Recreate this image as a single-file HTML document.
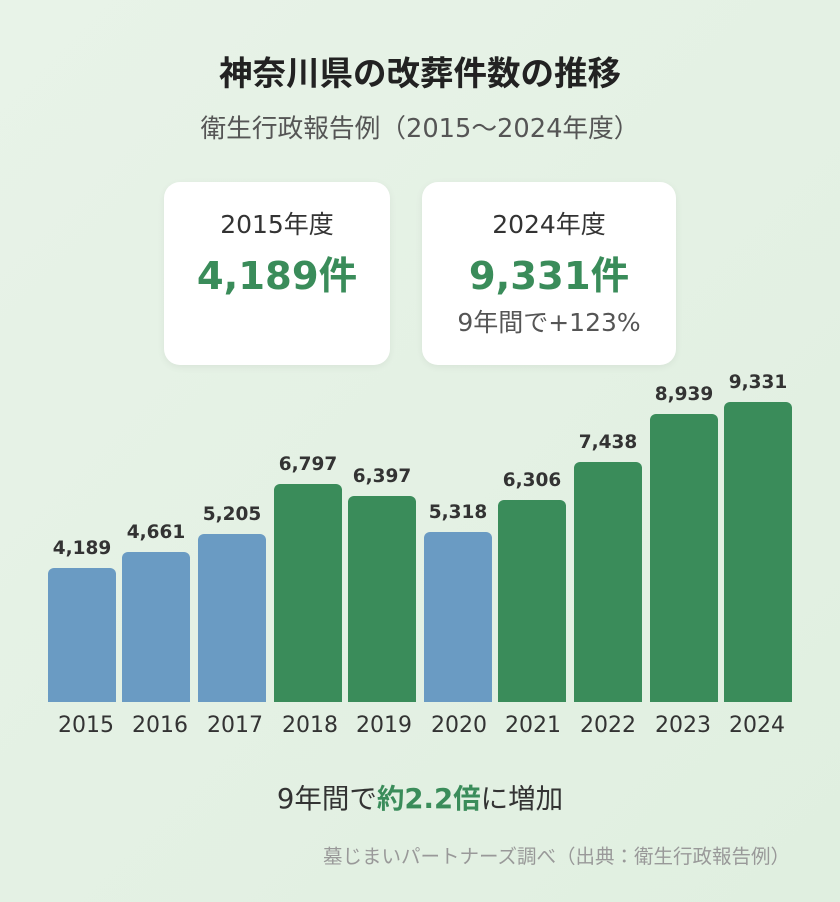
<!DOCTYPE html>
<html><head><meta charset="utf-8"><style>
body{margin:0;width:840px;height:902px;background:linear-gradient(135deg,#e8f3e8,#e0efe0);font-family:"DejaVu Sans","Noto Sans CJK JP",sans-serif;position:relative;overflow:hidden;color:#333}
.a{position:absolute;white-space:nowrap}
.card{position:absolute;top:182px;height:183px;background:#fff;border-radius:16px;box-shadow:0 2px 8px rgba(0,0,0,0.06);text-align:center}
.bar{position:absolute;border-radius:6px 6px 0 0}
.v{position:absolute;width:80px;text-align:center;font-weight:bold;font-size:18.5px;color:#333}
.y{position:absolute;top:713px;width:80px;text-align:center;font-size:22px;color:#333}
</style></head><body>
<div class="a" style="left:0;width:840px;text-align:center;top:46px;font-size:33.5px;font-weight:bold;color:#222">神奈川県の改葬件数の推移</div>
<div class="a" style="left:0;width:840px;text-align:center;top:108px;font-size:25.7px;color:#555">衛生行政報告例（2015～2024年度）</div>
<div class="card" style="left:164px;width:226px">
<div style="margin-top:23px;font-size:25px;color:#333">2015年度</div>
<div style="margin-top:4px;font-size:38.5px;font-weight:bold;color:#3a8c5a">4,189件</div></div>
<div class="card" style="left:422px;width:254px">
<div style="margin-top:23px;font-size:25px;color:#333">2024年度</div>
<div style="margin-top:4px;font-size:38.5px;font-weight:bold;color:#3a8c5a">9,331件</div>
<div style="margin-top:2px;font-size:25px;color:#555">9年間で+123%</div></div>
<div class="bar" style="left:48px;width:68px;top:568px;height:134px;background:#6a9bc3"></div>
<div class="bar" style="left:122px;width:68px;top:552px;height:150px;background:#6a9bc3"></div>
<div class="bar" style="left:198px;width:68px;top:534px;height:168px;background:#6a9bc3"></div>
<div class="bar" style="left:274px;width:68px;top:484px;height:218px;background:#3a8c5a"></div>
<div class="bar" style="left:348px;width:68px;top:496px;height:206px;background:#3a8c5a"></div>
<div class="bar" style="left:424px;width:68px;top:532px;height:170px;background:#6a9bc3"></div>
<div class="bar" style="left:498px;width:68px;top:500px;height:202px;background:#3a8c5a"></div>
<div class="bar" style="left:574px;width:68px;top:462px;height:240px;background:#3a8c5a"></div>
<div class="bar" style="left:650px;width:68px;top:414px;height:288px;background:#3a8c5a"></div>
<div class="bar" style="left:724px;width:68px;top:402px;height:300px;background:#3a8c5a"></div>
<div class="v" style="left:42px;top:538px">4,189</div>
<div class="v" style="left:116px;top:522px">4,661</div>
<div class="v" style="left:192px;top:504px">5,205</div>
<div class="v" style="left:268px;top:454px">6,797</div>
<div class="v" style="left:342px;top:466px">6,397</div>
<div class="v" style="left:418px;top:502px">5,318</div>
<div class="v" style="left:492px;top:470px">6,306</div>
<div class="v" style="left:568px;top:432px">7,438</div>
<div class="v" style="left:644px;top:384px">8,939</div>
<div class="v" style="left:718px;top:372px">9,331</div>
<div class="y" style="left:46px">2015</div><div class="y" style="left:120px">2016</div><div class="y" style="left:195px">2017</div><div class="y" style="left:270px">2018</div><div class="y" style="left:344px">2019</div><div class="y" style="left:419px">2020</div><div class="y" style="left:493px">2021</div><div class="y" style="left:568px">2022</div><div class="y" style="left:643px">2023</div><div class="y" style="left:717px">2024</div>
<div class="a" style="left:0;width:840px;text-align:center;top:776px;font-size:27.5px;color:#333">9年間で<b style="color:#3a8c5a">約2.2倍</b>に増加</div>
<div class="a" style="right:50px;top:840px;font-size:19.5px;color:#999">墓じまいパートナーズ調べ（出典：衛生行政報告例）</div>
</body></html>
